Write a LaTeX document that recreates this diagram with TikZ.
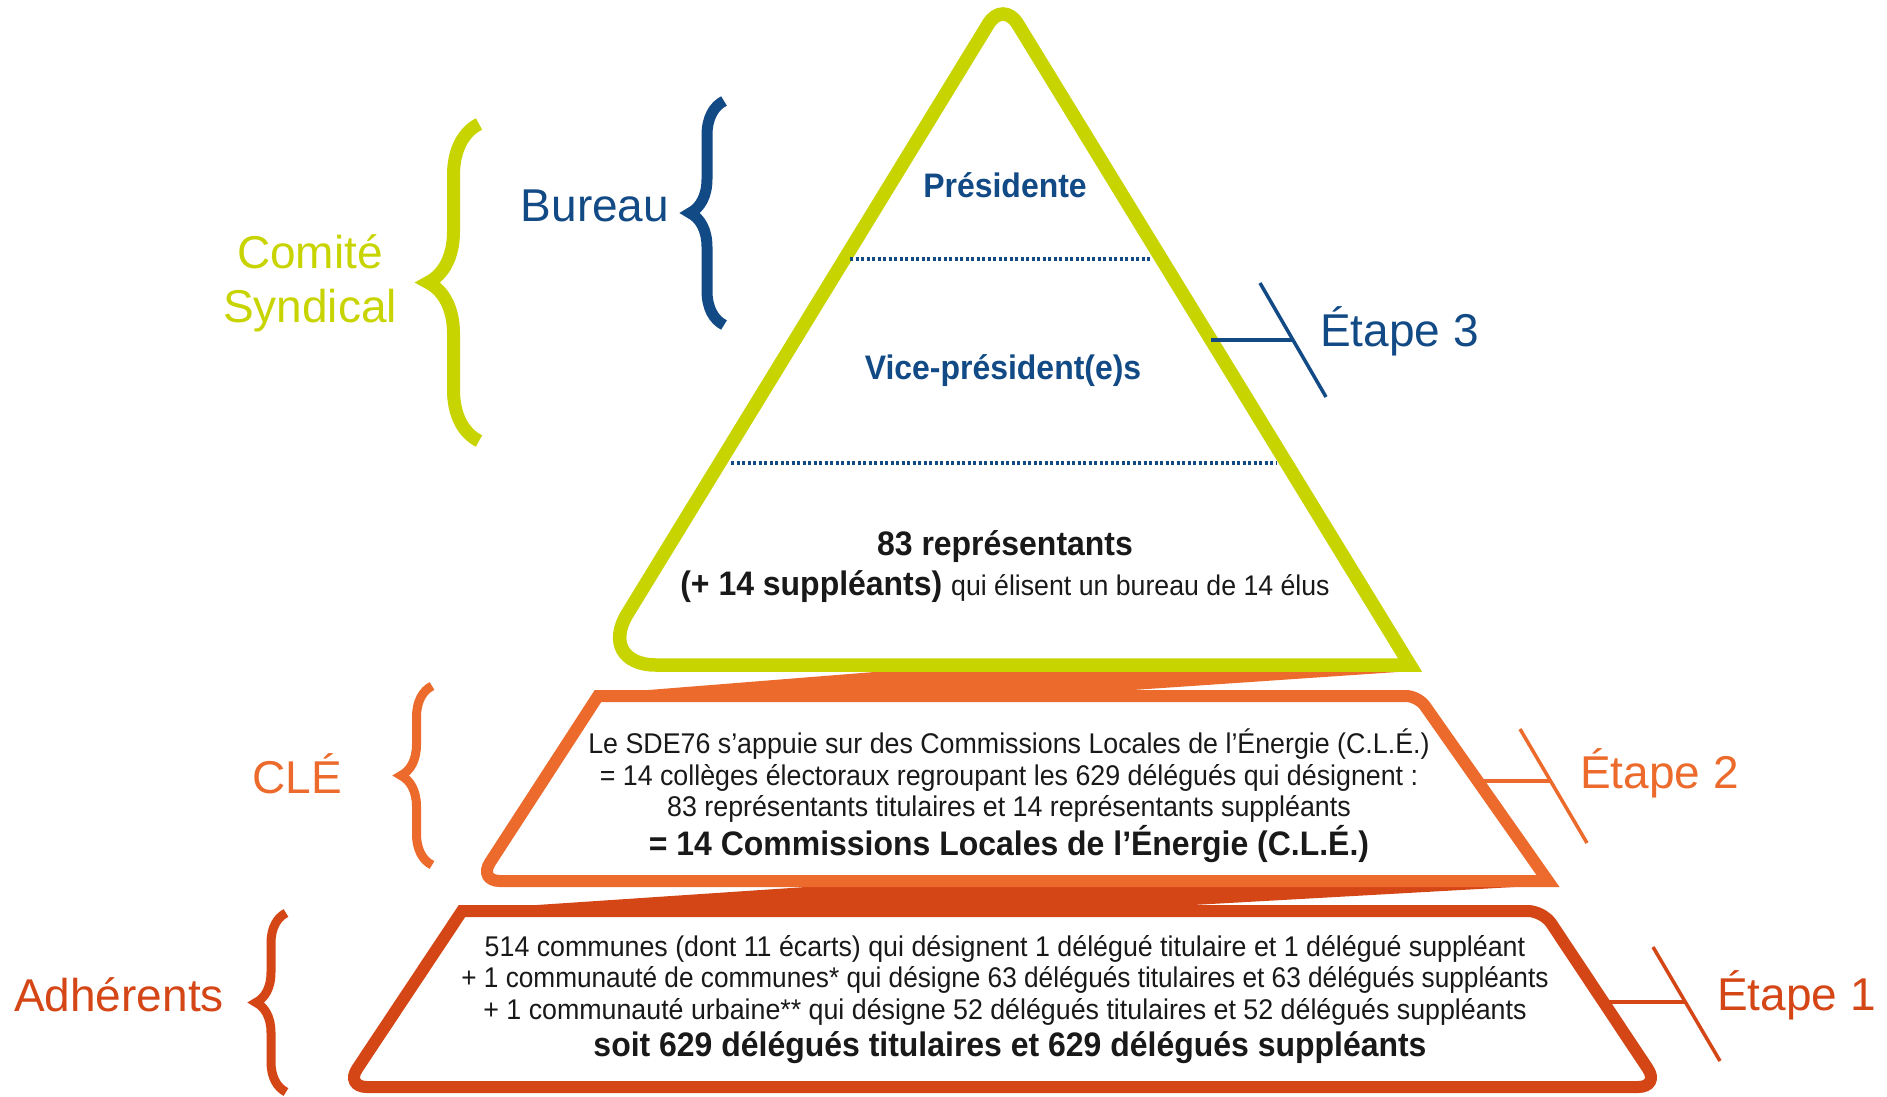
\documentclass[tikz,border=0pt]{standalone}
\usepackage{fontspec}
\setmainfont{Liberation Sans}
\newfontfamily\narrowfont[FakeStretch=0.94]{Liberation Sans}
\usetikzlibrary{decorations.pathreplacing}
\definecolor{vert}{RGB}{200,212,0}
\definecolor{bleu}{RGB}{18,74,134}
\definecolor{orangecle}{RGB}{236,106,44}
\definecolor{rouille}{RGB}{212,70,22}
\definecolor{texte}{RGB}{25,25,25}

\begin{document}
\begin{tikzpicture}[x=1pt, y=-1pt,
    legende/.style={font=\fontsize{46}{54}\selectfont, align=center, inner sep=0pt},
    boxtext/.style={text=texte, align=center, inner sep=0pt, font=\narrowfont\fontsize{28.5}{31.5}\selectfont},
    boxbold/.style={text=texte, inner sep=0pt, font=\narrowfont\bfseries\fontsize{34}{38}\selectfont},
    bluebold/.style={text=bleu, inner sep=0pt, font=\narrowfont\bfseries\fontsize{34}{38}\selectfont},
    accolade/.style={decorate, decoration={brace, amplitude=#1}},
    etape/.style={line width=3.5pt},
    pointille/.style={bleu, line width=3.5pt, dash pattern=on 3pt off 2.5pt}
]
    \fill[white] (0,0) rectangle (1887,1096);
    \useasboundingbox (0,0) rectangle (1887,1096);

    % Raccords entre niveaux
    \fill[orangecle] (598,694) -- (1000,662) -- (1412,664) -- (1412,671) -- (1118,691) -- cycle;
    \fill[rouille] (462,910) -- (1000,874) -- (1550,877) -- (1550,885) -- (1175,906) -- cycle;

    % Niveau 1 : Adhérents
    \draw[rouille, line width=12pt, fill=white] (1000,911) [rounded corners=15pt] -- (1543,911) [rounded corners=22pt] -- (1660,1087) -- (345,1087) [sharp corners] -- (462,911) -- cycle;

    % Niveau 2 : CLÉ
    \draw[orangecle, line width=12pt, fill=white] (1000,696) [rounded corners=12pt] -- (1418,696) [sharp corners] -- (1548,881) [rounded corners=22pt] -- (478,881) [sharp corners] -- (598,696) -- cycle;

    % Niveau 3 : Comité syndical
    \draw[vert, line width=13.5pt, fill=white] (1000,665) -- (1410,665) [rounded corners=28pt] -- (1003,0) [rounded corners=60pt] -- (596,665) [sharp corners] -- cycle;
    \draw[pointille] (850,259) -- (1152,259);
    \draw[pointille] (731,463) -- (1277,463);

    % Textes de la pyramide
    \node[bluebold] (presidente) at (1005,185) {Présidente};
    \node[bluebold] (vicepres) at (1003,371) {Vice-président(e)s};
    \node[boxbold] (representants) at (1005,547) {83 représentants};
    \node[boxbold] (suppleants) at (1005,587) {(+ 14 suppléants) {\mdseries\fontsize{28.4}{32}\selectfont qui élisent un bureau de 14 élus}};
    \node[boxtext] (sde) at (1009,776) {Le SDE76 s’appuie sur des Commissions Locales de l’Énergie (C.L.É.)\\= 14 collèges électoraux regroupant les 629 délégués qui désignent :\\83 représentants titulaires et 14 représentants suppléants};
    \node[boxbold] (cle14) at (1009,844) {= 14 Commissions Locales de l’Énergie (C.L.É.)};
    \node[boxtext] (communes) at (1005,980) {514 communes (dont 11 écarts) qui désignent 1 délégué titulaire et 1 délégué suppléant\\\scalebox{0.978}[1]{+ 1 communauté de communes* qui désigne 63 délégués titulaires et 63 délégués suppléants}\\+ 1 communauté urbaine** qui désigne 52 délégués titulaires et 52 délégués suppléants};
    \node[boxbold] (total) at (1010,1048) {soit 629 délégués titulaires et 629 délégués suppléants};

    % Accolades et légendes à gauche
    \node[legende, text=vert] (comite) at (310,283) {Comité\\Syndical};
    \node[legende, text=bleu] (bureau) at (595,206) {Bureau};
    \node[legende, text=orangecle] (cle) at (297,774) {CLÉ};
    \node[legende, text=rouille] (adherents) at (119,995) {Adhérents};
    \coordinate (comiteH) at (479,124);
    \coordinate (comiteB) at (479,441);
    \coordinate (bureauH) at (724,101);
    \coordinate (bureauB) at (724,325);
    \coordinate (cleH) at (432,686);
    \coordinate (cleB) at (432,865);
    \coordinate (adhH) at (286,913);
    \coordinate (adhB) at (286,1092);
    \draw[vert, line width=13pt, accolade=51pt] (comiteB) -- (comiteH);
    \draw[bleu, line width=11pt, accolade=34pt] (bureauB) -- (bureauH);
    \draw[orangecle, line width=9pt, accolade=31pt] (cleB) -- (cleH);
    \draw[rouille, line width=9pt, accolade=30pt] (adhB) -- (adhH);

    % Étapes à droite
    \coordinate (e3a) at (1211,340);
    \coordinate (e3b) at (1293,340);
    \coordinate (e3h) at (1260,283);
    \coordinate (e3l) at (1326,397);
    \coordinate (e2a) at (1478,781);
    \coordinate (e2b) at (1551,781);
    \coordinate (e2h) at (1520,729);
    \coordinate (e2l) at (1587,843);
    \coordinate (e1a) at (1604,1002);
    \coordinate (e1b) at (1685,1002);
    \coordinate (e1h) at (1653,947);
    \coordinate (e1l) at (1720,1061);
    \draw[bleu, etape] (e3a) -- (e3b);
    \draw[bleu, etape] (e3h) -- (e3l);
    \draw[orangecle, etape] (e2a) -- (e2b);
    \draw[orangecle, etape] (e2h) -- (e2l);
    \draw[rouille, etape] (e1a) -- (e1b);
    \draw[rouille, etape] (e1h) -- (e1l);
    \node[legende, text=bleu, anchor=west] (etape3) at (1320,331) {Étape 3};
    \node[legende, text=orangecle, anchor=west] (etape2) at (1580,773) {Étape 2};
    \node[legende, text=rouille, anchor=west] (etape1) at (1717,995) {Étape 1};
\end{tikzpicture}
\end{document}
